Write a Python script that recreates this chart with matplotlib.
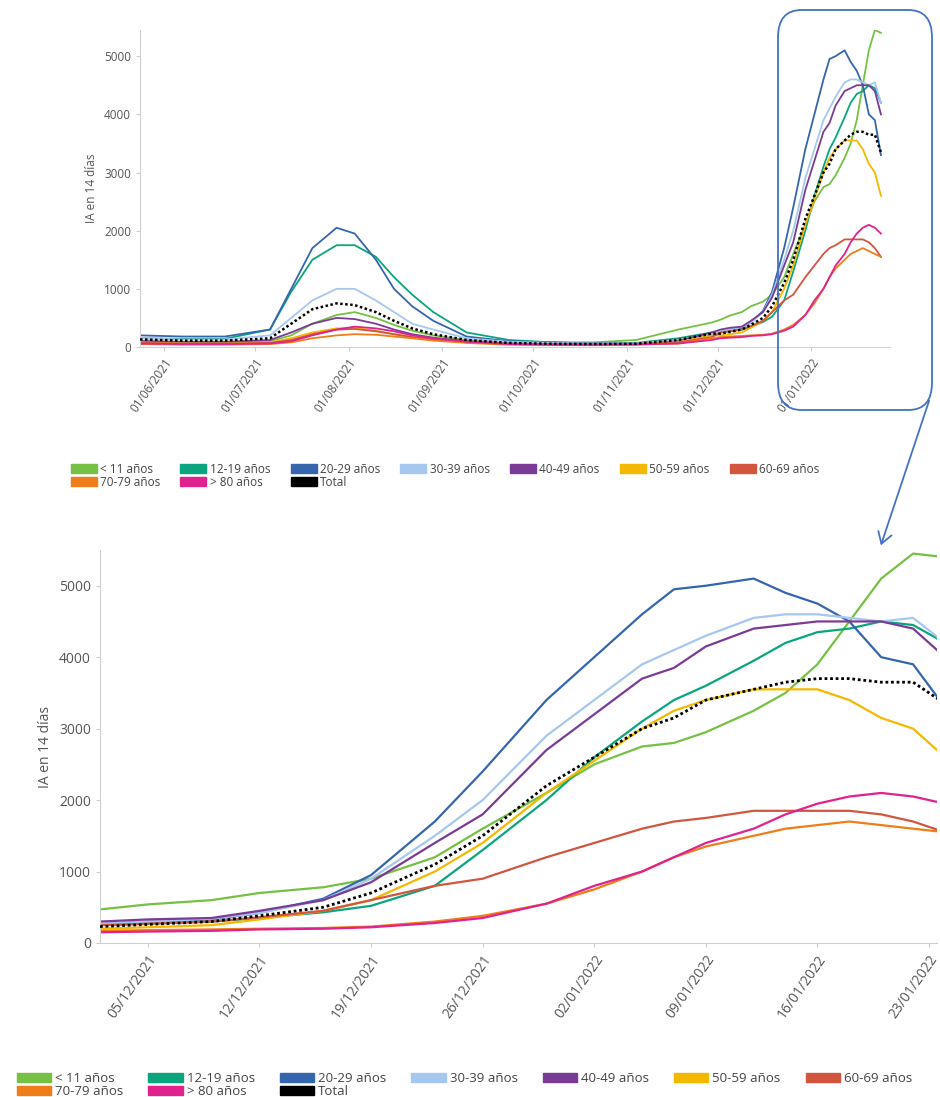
import matplotlib
matplotlib.use("Agg")
import matplotlib.pyplot as plt
import matplotlib.dates as mdates
from matplotlib.patches import FancyBboxPatch, Patch, FancyArrowPatch
import pandas as pd

plt.rcParams['font.family'] = ['Open Sans', 'DejaVu Sans']

dates = pd.to_datetime([
    "2021-05-24","2021-06-07","2021-06-21","2021-07-06","2021-07-13","2021-07-20","2021-07-28",
    "2021-08-03","2021-08-10","2021-08-16","2021-08-22","2021-08-29","2021-09-09","2021-09-23",
    "2021-10-07","2021-10-21","2021-11-04","2021-11-18","2021-11-29",
    "2021-12-02","2021-12-05","2021-12-09","2021-12-12","2021-12-16","2021-12-19","2021-12-23",
    "2021-12-26","2021-12-30","2022-01-02","2022-01-05","2022-01-07","2022-01-09","2022-01-12",
    "2022-01-14","2022-01-16","2022-01-18","2022-01-20","2022-01-22","2022-01-24"])

legend_labels = ["< 11 años","12-19 años","20-29 años","30-39 años","40-49 años",
                 "50-59 años","60-69 años","70-79 años","> 80 años","Total"]
colors = ["#76c043","#0aa57f","#3566ad","#a6c8ee","#7a3b96",
          "#f5b800","#d2553f","#ee7d1a","#e0228f","#000000"]

a_0_11 = [100,80,80,100,200,400,550,600,500,380,280,200,120,80,80,80,120,300,420,
          470,540,600,700,780,900,1200,1600,2100,2500,2750,2800,2950,3250,3500,3900,4500,5100,5450,5400]
a_12_19 = [150,140,140,300,950,1500,1750,1750,1550,1200,900,600,250,120,80,60,70,150,250,
           250,270,300,350,430,520,800,1300,2000,2600,3100,3400,3600,3950,4200,4350,4400,4500,4450,4200]
a_20_29 = [200,180,180,300,1000,1700,2050,1950,1500,1000,700,450,180,100,80,60,60,120,220,
           260,300,330,420,620,950,1700,2400,3400,4000,4600,4950,5000,5100,4900,4750,4500,4000,3900,3300]
a_30_39 = [150,130,130,200,500,800,1000,1000,800,600,400,300,150,90,70,60,60,120,220,
           270,300,340,420,600,900,1500,2000,2900,3400,3900,4100,4300,4550,4600,4600,4550,4500,4550,4200]
a_40_49 = [100,90,90,120,250,400,500,480,400,300,220,160,100,60,50,45,50,100,250,
           300,330,350,450,600,850,1400,1800,2700,3200,3700,3850,4150,4400,4450,4500,4500,4500,4400,4000]
a_50_59 = [80,60,60,80,150,250,320,330,280,220,170,130,80,50,40,40,45,90,200,
           200,220,250,330,450,600,1000,1400,2100,2550,3000,3250,3400,3550,3550,3550,3400,3150,3000,2600]
a_60_69 = [70,60,60,70,120,220,300,310,270,220,170,130,80,50,40,40,45,80,170,
           250,270,300,360,450,600,800,900,1200,1400,1600,1700,1750,1850,1850,1850,1850,1800,1700,1550]
a_70_79 = [50,40,40,50,80,150,200,220,210,180,150,110,70,40,35,35,40,60,150,
           170,180,190,200,210,230,300,380,550,750,1000,1200,1350,1500,1600,1650,1700,1650,1600,1550]
a_80 = [60,50,50,60,100,200,300,350,320,270,200,150,90,50,40,40,45,60,120,
        150,160,170,190,200,220,280,350,550,800,1000,1200,1400,1600,1800,1950,2050,2100,2050,1950]
total = [130,110,110,150,400,650,750,720,600,450,320,220,120,70,55,50,55,120,230,
         230,260,300,380,500,700,1100,1500,2200,2600,3000,3150,3400,3550,3650,3700,3700,3650,3650,3350]
series = [a_0_11,a_12_19,a_20_29,a_30_39,a_40_49,a_50_59,a_60_69,a_70_79,a_80,total]

top_ticks = pd.to_datetime(["2021-06-01","2021-07-01","2021-08-01","2021-09-01","2021-10-01",
                            "2021-11-01","2021-12-01","2022-01-01"])
bot_ticks = pd.to_datetime(["2021-12-05","2021-12-12","2021-12-19","2021-12-26","2022-01-02",
                            "2022-01-09","2022-01-16","2022-01-23"])

W, H = 940, 1097
fig = plt.figure(figsize=(9.4, 10.97), dpi=100)

def ax_at(l, t, r, b):
    return fig.add_axes([l/W, 1-b/H, (r-l)/W, (b-t)/H])

def style(ax, fs):
    for s in ["top","right"]:
        ax.spines[s].set_visible(False)
    for s in ["left","bottom"]:
        ax.spines[s].set_color("#d0d0d0")
    ax.tick_params(colors="#cccccc", labelcolor="#555555", labelsize=fs, length=3)
    ax.set_ylabel("IA en 14 días", color="#555555", fontsize=fs)
    for lab in ax.get_xticklabels():
        lab.set_rotation(55); lab.set_ha("right"); lab.set_rotation_mode("anchor")

ax1 = ax_at(140, 30, 890, 347)
for s, c in zip(series, colors):
    if c == "#000000":
        ax1.plot(dates, s, color=c, lw=1.8, ls=(0, (1, 1)), zorder=5)
    else:
        ax1.plot(dates, s, color=c, lw=1.3)
ax1.set_xlim(pd.Timestamp("2021-05-24"), pd.Timestamp("2022-01-27"))
ax1.set_ylim(0, 5450)
ax1.set_yticks([0,1000,2000,3000,4000,5000])
ax1.set_xticks(top_ticks)
ax1.xaxis.set_major_formatter(mdates.DateFormatter("%d/%m/%Y"))
style(ax1, 8.5)

ax2 = ax_at(100, 550, 937, 943)
m = dates >= pd.Timestamp("2021-12-01")
for s, c in zip(series, colors):
    y = [v for v, k in zip(s, m) if k]
    if c == "#000000":
        ax2.plot(dates[m], y, color=c, lw=2.0, ls=(0, (1, 1)), zorder=5)
    else:
        ax2.plot(dates[m], y, color=c, lw=1.6)
ax2.set_xlim(pd.Timestamp("2021-12-02"), pd.Timestamp("2022-01-23 12:00"))
ax2.set_ylim(0, 5500)
ax2.set_yticks([0,1000,2000,3000,4000,5000])
ax2.set_xticks(bot_ticks)
ax2.xaxis.set_major_formatter(mdates.DateFormatter("%d/%m/%Y"))
style(ax2, 10)

order = [0,7,1,8,2,9,3,4,5,6]
handles = [Patch(color=colors[i]) for i in order]
labs = [legend_labels[i] for i in order]
fig.legend(handles, labs, ncol=7, loc="upper left", bbox_to_anchor=(60/W, 1-452/H),
           frameon=False, fontsize=8.5, handlelength=2.2, handleheight=0.7,
           columnspacing=1.7, handletextpad=0.3, labelspacing=0.0, labelcolor="#444444")
fig.legend(handles, labs, ncol=7, loc="upper left", bbox_to_anchor=(5/W, 1-1060/H),
           frameon=False, fontsize=9.5, handlelength=2.6, handleheight=0.7,
           columnspacing=1.9, handletextpad=0.3, labelspacing=0.0, labelcolor="#444444")

box = FancyBboxPatch((778/W, 1-410/H), 154/W, 400/H, boxstyle="round,pad=0,rounding_size=0.025",
                     transform=fig.transFigure, fill=False, edgecolor="#4472c4", lw=1.3)
fig.patches.append(box)
arr = FancyArrowPatch((930/W, 1-398/H), (880/W, 1-548/H), transform=fig.transFigure,
                      arrowstyle="->,head_length=8,head_width=5", color="#4472c4", lw=1.3)
fig.patches.append(arr)

fig.savefig("out.png", dpi=100)
